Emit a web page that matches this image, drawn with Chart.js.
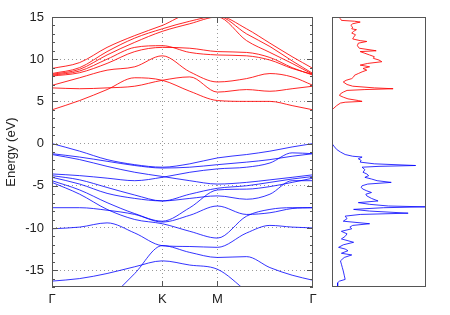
<!DOCTYPE html>
<html>
<head>
<meta charset="utf-8">
<script src="https://cdn.jsdelivr.net/npm/chart.js@4/dist/chart.umd.min.js"></script>
<style>
  body { margin: 0; background: #fff; }
  #wrap { position: relative; width: 450px; height: 315px; }
  #bands { position: absolute; left: 0; top: 0; }
  #dos { position: absolute; left: 320px; top: 0; }
</style>
</head>
<body>
<div id="wrap">
  <canvas id="bands" width="330" height="315"></canvas>
  <canvas id="dos" width="130" height="315"></canvas>
</div>
<script>
// k-path positions (fraction of total path length), high-symmetry points
const kPath = [0, 0.106, 0.211, 0.317, 0.4226, 0.528, 0.634, 0.7455, 0.835, 0.92, 1.0];
const kTicks = [0, 0.4226, 0.634, 1];
const kLabels = ['Γ', 'K', 'M', 'Γ'];
const eTicks = [-15, -10, -5, 0, 5, 10, 15];

// conduction bands (eV) at kPath
const conduction = [
  [4.0, 5.1, 6.4, 7.8, 7.5, 6.2, 5.1, 5.0, 5.0, 4.5, 4.0],
  [6.6, 6.5, 6.6, 6.8, 7.5, 7.9, 6.1, 6.4, 6.2, 6.5, 6.8],
  [6.9, 7.8, 8.7, 9.1, 10.4, 8.5, 7.3, 7.7, 8.3, 7.9, 6.9],
  [8.0, 8.4, 9.5, 10.9, 11.4, 11.3, 10.9, 10.8, 10.2, 9.0, 8.1],
  [8.1, 8.6, 10.0, 11.4, 11.6, 10.8, 10.5, 10.4, 9.9, 8.9, 8.2],
  [8.2, 8.8, 10.5, 12.0, 13.3, 14.2, 15.0, 12.2, 10.8, 9.5, 8.2],
  [8.3, 9.0, 10.9, 12.5, 13.6, 14.5, 15.1, 13.0, 11.5, 9.8, 8.3],
  [8.9, 9.6, 11.4, 12.8, 14.0, 15.3, 15.2, 13.6, 11.9, 10.3, 8.9]
];

// valence bands (eV) at kPath
const valence = [
  [0.0, -0.9, -1.9, -2.5, -2.8, -2.4, -1.7, -1.3, -0.9, -0.4, 0.0],
  [-1.2, -1.6, -2.1, -2.6, -2.9, -2.8, -2.5, -2.2, -1.9, -1.5, -1.2],
  [-1.3, -1.9, -2.7, -3.4, -3.9, -4.4, -4.8, -4.6, -4.3, -4.0, -3.7],
  [-3.6, -3.8, -4.1, -4.4, -4.0, -3.4, -3.0, -2.8, -2.3, -1.1, -1.2],
  [-3.8, -4.3, -5.2, -6.1, -6.8, -6.0, -5.3, -5.0, -4.6, -4.2, -3.9],
  [-4.0, -4.8, -5.9, -6.5, -6.8, -6.5, -6.2, -6.6, -6.0, -4.4, -4.4],
  [-4.4, -5.5, -7.0, -8.3, -9.2, -7.6, -5.5, -5.4, -5.1, -4.6, -4.1],
  [-4.6, -6.0, -7.8, -9.0, -9.5, -10.4, -11.2, -8.6, -7.8, -7.6, -7.6],
  [-7.6, -7.6, -7.9, -8.4, -9.3, -8.5, -7.4, -8.4, -8.2, -7.7, -7.6],
  [-10.1, -9.9, -9.4, -10.6, -12.1, -12.2, -12.3, -10.6, -9.7, -9.9, -10.0],
  [null, null, -18.7, -15.4, -12.1, -12.9, -13.5, -13.4, -14.7, -15.6, -16.2],
  [-16.3, -16.0, -15.4, -14.6, -13.9, -14.4, -14.9, -17.5, null, null, null]
];

// density of states (arbitrary units, 100 = panel width)
const dosRedE = [15.0, 14.8, 14.6, 14.5, 14.4, 14.2, 14.0, 13.8, 13.6, 13.5, 13.3, 13.1, 12.9, 12.6, 12.4, 12.2, 12.1, 11.9, 11.6, 11.3, 11.0, 10.9, 10.7, 10.5, 10.3, 10.1, 9.9, 9.7, 9.5, 9.3, 9.1, 8.9, 8.7, 8.5, 8.3, 8.1, 7.9, 7.7, 7.5, 7.3, 7.0, 6.8, 6.6, 6.5, 6.4, 6.3, 6.1, 5.9, 5.7, 5.5, 5.3, 5.1, 5.0, 4.9, 4.8, 4.5, 4.2, 4.0];
const dosRed = [7, 9, 10, 24, 30, 22, 20, 22, 21, 26, 23, 21, 25, 23, 22, 30, 37, 28, 27, 29, 47, 30, 35, 40, 45, 44, 50, 53, 38, 30, 40, 33, 37, 32, 28, 24, 23, 21, 15, 12, 16, 22, 45, 65, 35, 16, 12, 9, 8, 12, 17, 28, 32, 14, 9, 5, 2, 0];
const dosBlueE = [0.0, -0.3, -0.7, -1.0, -1.3, -1.5, -1.6, -1.8, -2.0, -2.2, -2.4, -2.6, -2.7, -2.8, -3.1, -3.4, -3.6, -3.8, -4.0, -4.2, -4.4, -4.6, -4.8, -5.0, -5.2, -5.4, -5.6, -5.8, -6.0, -6.2, -6.5, -6.8, -7.0, -7.2, -7.4, -7.5, -7.6, -7.8, -8.0, -8.25, -8.4, -8.6, -8.9, -9.2, -9.5, -9.7, -9.9, -10.1, -10.4, -10.7, -11.0, -11.3, -11.7, -12.0, -12.3, -12.5, -12.7, -13.0, -13.2, -13.5, -13.9, -14.3, -14.7, -15.1, -15.6, -16.1, -16.3, -16.5, -17.0];
const dosBlue = [0, 2, 5, 9, 14, 22, 32, 28, 31, 30, 45, 89, 50, 32, 35, 33, 37, 39, 35, 42, 48, 63, 38, 32, 31, 33, 37, 42, 36, 37, 42, 49, 28, 40, 60, 100, 55, 23, 40, 81, 30, 14, 16, 12, 40, 22, 19, 21, 10, 16, 14, 10, 23, 12, 7, 14, 17, 10, 21, 13, 9, 10, 11, 12, 13, 14, 8, 6, 6];

const RED = 'rgba(255,0,0,0.85)';
const BLUE = 'rgba(0,0,255,0.8)';
const FONT = { family: 'Liberation Sans, Arial, sans-serif', size: 13 };

// frame and inward tick marks (gnuplot style)
const framePlugin = {
  id: 'frame',
  afterDatasetsDraw(chart, args, opts) {
    const { ctx, chartArea: a } = chart;
    ctx.save();
    ctx.strokeStyle = '#555';
    ctx.lineWidth = 1;
    ctx.strokeRect(a.left + 0.5, a.top + 0.5, a.width - 1, a.height - 1);
    if (opts.ticks) {
      const y = chart.scales.y, x = chart.scales.x;
      ctx.beginPath();
      for (let v = -17; v <= 15; v++) {
        const p = Math.round(y.getPixelForValue(v)) + 0.5;
        const len = v % 5 === 0 ? 6 : 3;
        ctx.moveTo(a.left, p); ctx.lineTo(a.left + len, p);
        ctx.moveTo(a.right, p); ctx.lineTo(a.right - len, p);
      }
      kTicks.slice(1, -1).forEach(k => {
        const p = Math.round(x.getPixelForValue(k)) + 0.5;
        ctx.moveTo(p, a.bottom); ctx.lineTo(p, a.bottom - 6);
        ctx.moveTo(p, a.top); ctx.lineTo(p, a.top + 6);
      });
      ctx.stroke();
    }
    ctx.restore();
  }
};

function bandSet(bands, color) {
  return bands.map(b => ({
    data: kPath.map((k, i) => ({ x: k, y: b[i] })),
    borderColor: color,
    borderWidth: 1,
    pointRadius: 0,
    cubicInterpolationMode: 'monotone',
    spanGaps: false
  }));
}

new Chart(document.getElementById('bands'), {
  type: 'line',
  data: { datasets: [...bandSet(conduction, RED), ...bandSet(valence, BLUE)] },
  options: {
    responsive: false,
    animation: false,
    events: [],
    layout: { padding: { left: 0, right: 17, top: 17, bottom: 0 } },
    plugins: { legend: { display: false }, tooltip: { enabled: false }, frame: { ticks: true } },
    scales: {
      x: {
        type: 'linear', min: 0, max: 1,
        afterBuildTicks: s => { s.ticks = kTicks.map(v => ({ value: v })); },
        afterFit: s => { s.height = 28; },
        ticks: { callback: (v, i) => kLabels[i], autoSkip: false, maxRotation: 0, padding: 5, color: '#222', font: FONT },
        grid: { drawTicks: false, color: c => (c.tick && (c.tick.value === 0 || c.tick.value === 1)) ? 'rgba(0,0,0,0)' : '#999' },
        border: { display: false, dash: [1, 3] }
      },
      y: {
        type: 'linear', min: -17, max: 15,
        afterBuildTicks: s => { s.ticks = eTicks.map(v => ({ value: v })); },
        afterFit: s => { s.width = 52; },
        ticks: { padding: 8, color: '#222', font: FONT },
        title: { display: true, text: 'Energy (eV)', color: '#222', font: FONT, padding: { top: 4, bottom: 0 } },
        grid: { drawTicks: false, color: c => (c.tick && c.tick.value === 15) ? 'rgba(0,0,0,0)' : '#999' },
        border: { display: false, dash: [1, 3] }
      }
    }
  },
  plugins: [framePlugin]
});

new Chart(document.getElementById('dos'), {
  type: 'scatter',
  data: {
    datasets: [
      { data: dosRedE.map((e, i) => ({ x: dosRed[i], y: e })), borderColor: RED, borderWidth: 1, showLine: true, pointRadius: 0 },
      { data: dosBlueE.map((e, i) => ({ x: dosBlue[i], y: e })), borderColor: BLUE, borderWidth: 1, showLine: true, pointRadius: 0 }
    ]
  },
  options: {
    responsive: false,
    animation: false,
    events: [],
    layout: { padding: { left: 12, right: 24, top: 17, bottom: 28 } },
    plugins: { legend: { display: false }, tooltip: { enabled: false }, frame: { ticks: false } },
    scales: {
      x: { type: 'linear', min: 0, max: 100, display: false },
      y: { type: 'linear', min: -17, max: 15, display: false }
    }
  },
  plugins: [framePlugin]
});
</script>
</body>
</html>
